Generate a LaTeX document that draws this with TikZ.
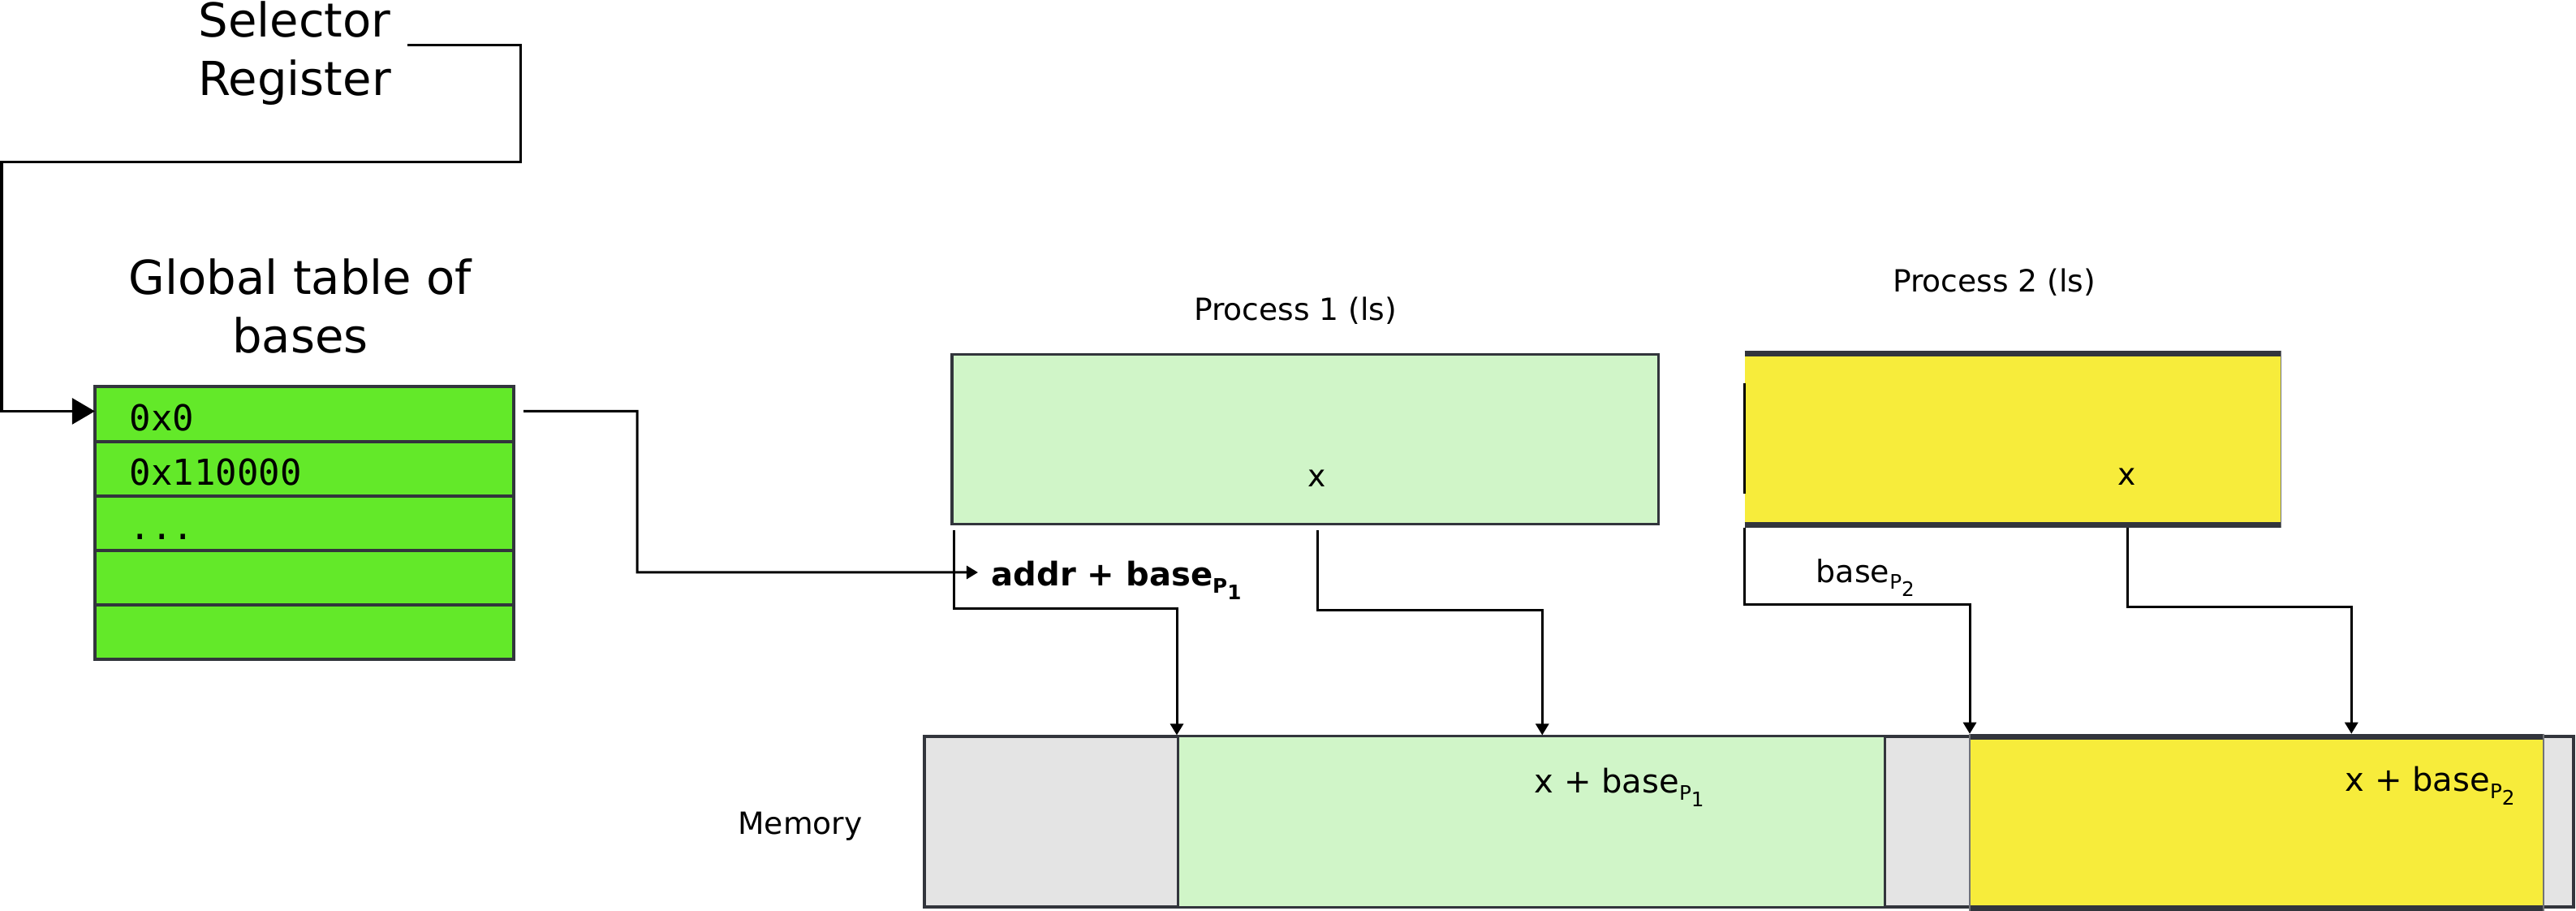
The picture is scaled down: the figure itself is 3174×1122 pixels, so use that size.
\documentclass[tikz,border=0pt]{standalone}
\usepackage{fontspec}
\setmainfont{DejaVu Sans}
\setmonofont{DejaVu Sans Mono}
\usetikzlibrary{positioning, arrows.meta}
\definecolor{tablegreen}{RGB}{99,233,41}
\definecolor{lightgreen}{RGB}{208,245,200}
\definecolor{procyellow}{RGB}{247,236,59}
\definecolor{memgray}{RGB}{228,228,228}
\definecolor{edge}{RGB}{50,53,60}
\newcommand{\psub}[1]{\raisebox{-0.08cm}{\scriptsize P\raisebox{-0.08cm}{#1}}}

\begin{document}
\begin{tikzpicture}[x=0.01cm, y=-0.01cm, >={Triangle[length=0.14cm, width=0.16cm]}]
        \tikzset{
            cell/.style     = {draw=edge, line width=0.04cm, fill=tablegreen, minimum height=0.67cm,
                               text width=4.30cm, inner xsep=0.43cm, inner ysep=0pt, outer sep=0pt, align=left,
                               text height=0.40cm, text depth=0pt, font=\ttfamily\fontsize{12.5}{15}\selectfont},
            title/.style    = {align=center, inner sep=0pt, font=\fontsize{16.4}{20.5}\selectfont},
            caption/.style  = {inner sep=0pt, anchor=base, font=\fontsize{10.7}{12.8}\selectfont},
            memtext/.style  = {inner sep=0pt, anchor=base west, font=\fontsize{11.4}{13.7}\selectfont},
            wire/.style     = {draw=black, line width=0.03cm},
            pbox/.style     = {draw=edge, line width=0.035cm, inner sep=0pt},
            memblock/.style = {draw=edge, line width=0.03cm, minimum height=2.10cm, inner sep=0pt},
            thickbar/.style = {draw=edge, line width=0.07cm}
        }
        \useasboundingbox (0,0) rectangle (3174,1122);

        \node[title] (selreg) at (363,66) {Selector\\Register};
        \node[title] (gtitle) at (370,377) {Global table of\\bases};

        \node[cell] (row1) at (375,510) {0x0};
        \node[cell, below=0pt of row1] (row2) {0x110000};
        \node[cell, below=0pt of row2] (row3) {...};
        \node[cell, below=0pt of row3] (row4) {};
        \node[cell, below=0pt of row4] (row5) {};

        \node[caption] (t1) at (1596,395) {Process 1 (ls)};
        \node[caption] (t2) at (2457,360) {Process 2 (ls)};
        \node[pbox, fill=lightgreen, minimum width=8.70cm, minimum height=2.09cm] (p1) at (1608,541) {};
        \node[inner sep=0pt, fill=procyellow, minimum width=6.59cm, minimum height=2.17cm] (p2) at (2480,541) {};
        \draw[thickbar] ([yshift=-0.035cm]p2.north west) -- ([yshift=-0.035cm]p2.north east);
        \draw[thickbar] ([yshift=0.035cm]p2.south west) -- ([yshift=0.035cm]p2.south east);
        \draw[draw=edge!70, line width=0.015cm] (p2.north east) -- (p2.south east);
        \draw[wire] ([yshift=-0.40cm]p2.north west) -- ([yshift=0.42cm]p2.south west);
        \node[caption] (x1) at (1623,600) {x};
        \node[caption] (x2) at (2621,598) {x};

        \node[memtext, font=\bfseries\fontsize{11.4}{13.7}\selectfont] (addr) at (1221,722) {addr + base\psub{1}};
        \node[memtext, font=\fontsize{10.8}{13}\selectfont] (b2) at (2237,718) {base\psub{2}};

        \node[memblock, fill=memgray, draw=edge, line width=0.04cm, minimum width=20.30cm] (mem) at (2155,1012) {};
        \node[memblock, fill=lightgreen, minimum width=8.70cm, anchor=west] (m1) at (1450,1012) {};
        \node[inner sep=0pt, fill=procyellow, minimum width=7.05cm, minimum height=2.17cm, anchor=west] (m2) at (2427,1013) {};
        \draw[thickbar] ([yshift=-0.035cm]m2.north west) -- ([yshift=-0.035cm]m2.north east);
        \draw[thickbar] ([yshift=0.035cm]m2.south west) -- ([yshift=0.035cm]m2.south east);
        \draw[draw=edge!70, line width=0.015cm] (m2.north west) -- (m2.south west);
        \draw[draw=edge!70, line width=0.015cm] (m2.north east) -- (m2.south east);
        \node[caption] (memlbl) at (986,1028) {Memory};
        \node[memtext] (xb1) at (1890,977) {x + base\psub{1}};
        \node[memtext] (xb2) at (2889,975) {x + base\psub{2}};

        \coordinate (selout) at (502,56);
        \draw[wire, -{Triangle[length=0.28cm, width=0.32cm]}] (selout) -| (641,200) -- (2,200) |- ([yshift=0.035cm]row1.west);
        \draw[wire, ->] ([shift={(0.12cm,0.035cm)}]row1.east) -| (785,705) -- ([shift={(-0.16cm,0.17cm)}]addr.base west);
        \draw[wire, ->] ([shift={(0.04cm,-0.06cm)}]p1.south west) -- ++(0,96) -| (m1.north west);
        \draw[wire, ->] ([yshift=-0.06cm]x1 |- p1.south) -- ++(0,98) -| ([xshift=4.50cm]m1.north west);
        \draw[wire, ->] (p2.south west) -- ++(0,94) -| (m2.north west);
        \draw[wire, ->] (x2 |- p2.south) -- ++(0,97) -| ([xshift=4.70cm]m2.north west);
    \end{tikzpicture}
\end{document}
